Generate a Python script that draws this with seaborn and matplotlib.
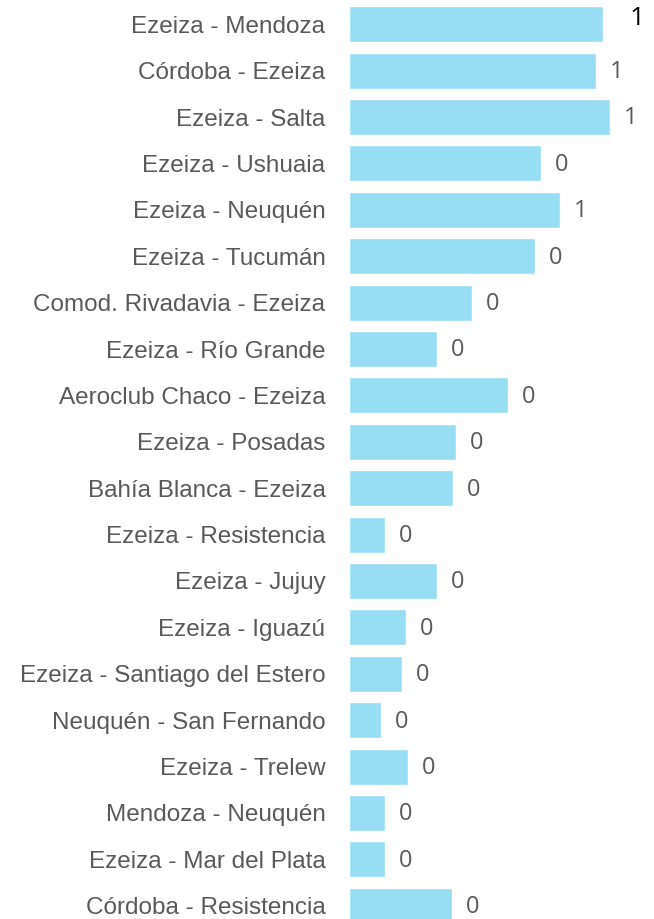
import matplotlib
matplotlib.use("Agg")
import matplotlib.pyplot as plt
import seaborn as sns
import pandas as pd

# rutas y valores
rutas = [
    "Ezeiza - Mendoza", "Córdoba - Ezeiza", "Ezeiza - Salta", "Ezeiza - Ushuaia",
    "Ezeiza - Neuquén", "Ezeiza - Tucumán", "Comod. Rivadavia - Ezeiza",
    "Ezeiza - Río Grande", "Aeroclub Chaco - Ezeiza", "Ezeiza - Posadas",
    "Bahía Blanca - Ezeiza", "Ezeiza - Resistencia", "Ezeiza - Jujuy",
    "Ezeiza - Iguazú", "Ezeiza - Santiago del Estero", "Neuquén - San Fernando",
    "Ezeiza - Trelew", "Mendoza - Neuquén", "Ezeiza - Mar del Plata",
    "Córdoba - Resistencia",
]
valores = [
    0.635, 0.618, 0.653, 0.480, 0.528, 0.465, 0.308, 0.220, 0.398, 0.268,
    0.260, 0.090, 0.220, 0.142, 0.133, 0.080, 0.148, 0.090, 0.090, 0.258,
]

df = pd.DataFrame({"ruta": rutas, "valor": valores})

sns.set_theme(style="white")
plt.rcParams["font.family"] = ["Liberation Sans", "DejaVu Sans"]

fig = plt.figure(figsize=(6.54, 9.19), dpi=100)
ax = fig.add_axes([349 / 654, -10 / 919, 305 / 654, 928 / 919])

sns.barplot(data=df, x="valor", y="ruta", orient="h", color="#97DEF5",
            saturation=1, width=0.78, ax=ax)

ax.set_xlim(0, 0.7625)
ax.set_xlabel("")
ax.set_ylabel("")
ax.set_xticks([])
ax.tick_params(axis="y", length=0, pad=17, labelsize=17.5, labelcolor="#595959")
sns.despine(ax=ax, left=True, bottom=True, top=True, right=True)

for i, v in enumerate(valores):
    if i == 0:
        ax.annotate(f"{v:.0f}", (v, i), xytext=(19, 4), textcoords="offset points",
                    va="center", ha="left", fontsize=19, color="black",
                    family="Open Sans")
    else:
        ax.annotate(f"{v:.0f}", (v, i), xytext=(10, -1), textcoords="offset points",
                    va="center", ha="left", fontsize=17, color="#595959",
                    family="Open Sans")

fig.savefig("out.png", dpi=100)
